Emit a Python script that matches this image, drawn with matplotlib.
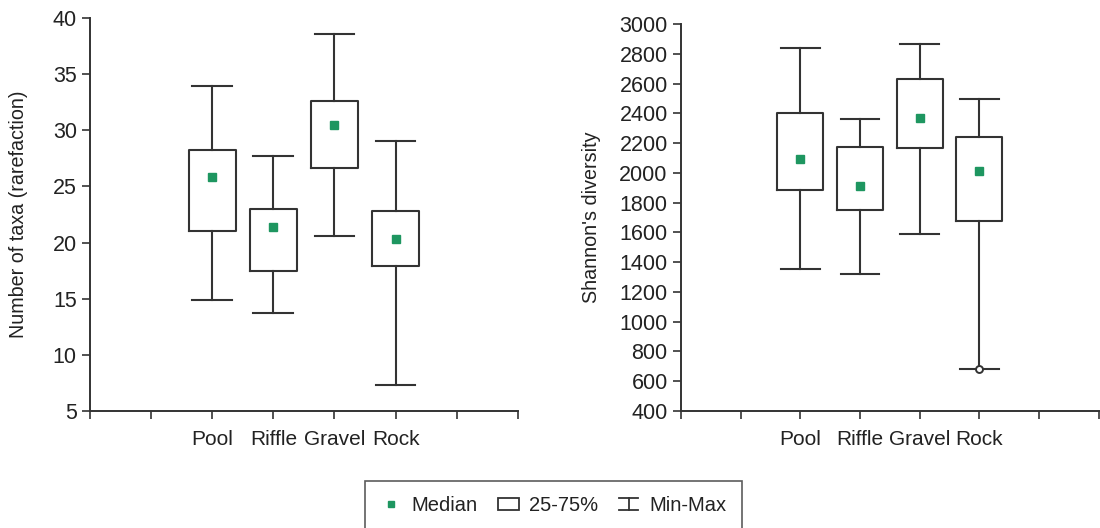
import matplotlib
matplotlib.use('Agg')
import matplotlib.pyplot as plt
import matplotlib.patches as mpatches
from matplotlib.lines import Line2D
from matplotlib.legend_handler import HandlerBase

plt.rcParams['font.family'] = ['Liberation Sans', 'DejaVu Sans']

habitats = ['Pool', 'Riffle', 'Gravel', 'Rock']

# Number of taxa (rarefaction)
taxa_min = [14.9, 13.7, 20.6, 7.3]
taxa_q1 = [21.0, 17.5, 26.6, 17.9]
taxa_med = [25.8, 21.4, 30.5, 20.3]
taxa_q3 = [28.2, 23.0, 32.6, 22.8]
taxa_max = [33.9, 27.7, 38.6, 29.0]

# Shannon's diversity
shan_min = [1355, 1320, 1590, 680]
shan_q1 = [1885, 1750, 2170, 1675]
shan_med = [2090, 1915, 2370, 2015]
shan_q3 = [2400, 2175, 2630, 2240]
shan_max = [2840, 2360, 2865, 2495]
shan_fliers = [[], [], [], [680]]

line_col = '#333333'
text_col = '#222222'
green = '#1e9660'


def make_stats(lo, q1, med, q3, hi, fliers=None):
    stats = []
    for i in range(len(lo)):
        stats.append({'whislo': lo[i], 'q1': q1[i], 'med': med[i], 'q3': q3[i],
                      'whishi': hi[i], 'fliers': fliers[i] if fliers else []})
    return stats


def draw_panel(ax, stats, med, ylim, yticks, ylabel, lx):
    pos = [2, 3, 4, 5]
    ax.bxp(stats, positions=pos, widths=0.77, showfliers=True,
           boxprops=dict(color=line_col, linewidth=1.5),
           whiskerprops=dict(color=line_col, linewidth=1.5),
           capprops=dict(color=line_col, linewidth=1.5),
           medianprops=dict(linewidth=0),
           flierprops=dict(marker='o', markersize=5, markerfacecolor='white',
                           markeredgecolor=line_col, markeredgewidth=1.4),
           capwidths=0.65)
    ax.plot(pos, med, 's', color=green, markersize=6, linestyle='none', zorder=5)
    ax.set_xlim(0, 7)
    ax.set_ylim(*ylim)
    ax.set_yticks(yticks)
    ax.set_xticks(range(8))
    ax.set_xticklabels(['', ''] + habitats + ['', ''])
    ax.spines['top'].set_visible(False)
    ax.spines['right'].set_visible(False)
    for s in ['left', 'bottom']:
        ax.spines[s].set_color(line_col)
        ax.spines[s].set_linewidth(1.4)
    ax.tick_params(axis='both', direction='out', length=5.5, width=1.2,
                   color=line_col, labelcolor=text_col)
    ax.tick_params(axis='y', pad=4, labelsize=15.5)
    ax.tick_params(axis='x', pad=8, labelsize=15)
    ax.set_ylabel(ylabel, fontsize=14.2, color=text_col)
    ax.yaxis.set_label_coords(lx, 0.5)


class MinMaxHandler(HandlerBase):
    def create_artists(self, legend, orig_handle, xdescent, ydescent,
                       width, height, fontsize, trans):
        cx = width / 2 - xdescent
        w = width * 0.45
        top = height * 0.95 - ydescent
        bot = height * 0.0 - ydescent
        lines = [
            Line2D([cx - w, cx + w], [top, top]),
            Line2D([cx - w, cx + w], [bot, bot]),
            Line2D([cx, cx], [bot, top]),
        ]
        for ln in lines:
            ln.set_color(line_col)
            ln.set_linewidth(1.3)
            ln.set_transform(trans)
        return lines


fig = plt.figure(figsize=(11, 5.28), dpi=100)
ax1 = fig.add_axes([0.0818, 0.2216, 0.389, 0.7444])
ax2 = fig.add_axes([0.619, 0.2216, 0.380, 0.7329])

draw_panel(ax1, make_stats(taxa_min, taxa_q1, taxa_med, taxa_q3, taxa_max),
           taxa_med, (5, 40), range(5, 41, 5), 'Number of taxa (rarefaction)', -0.145)
draw_panel(ax2, make_stats(shan_min, shan_q1, shan_med, shan_q3, shan_max, shan_fliers),
           shan_med, (400, 3000), range(400, 3001, 200), "Shannon's diversity", -0.191)

h_med = Line2D([], [], marker='s', color=green, linestyle='none', markersize=5)
h_box = mpatches.Rectangle((0, 0), 1, 1, facecolor='white', edgecolor=line_col, linewidth=1.3)
h_mm = object()
leg = fig.legend([h_med, h_box, h_mm], ['Median', '25-75%', 'Min-Max'],
                 handler_map={h_mm: MinMaxHandler()},
                 loc='lower center', bbox_to_anchor=(0.503, -0.004), ncol=3,
                 fontsize=14.5, frameon=True, fancybox=False, edgecolor=line_col,
                 handlelength=1.05, handleheight=0.6, handletextpad=0.5,
                 columnspacing=1.0, borderpad=0.75, borderaxespad=0)
leg.get_frame().set_linewidth(1.2)
for t in leg.get_texts():
    t.set_color(text_col)

fig.savefig('out.png', dpi=100)
